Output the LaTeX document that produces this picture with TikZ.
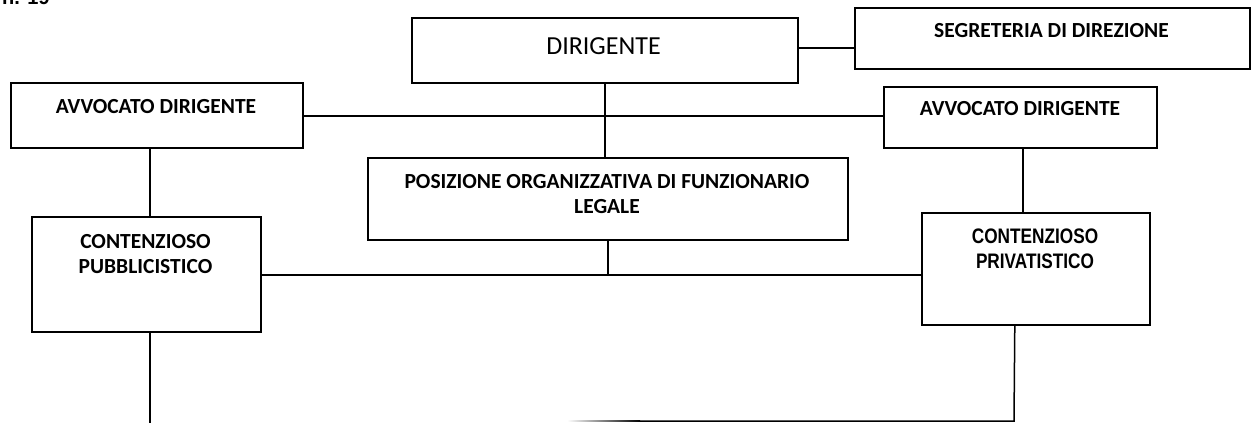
\documentclass[tikz,border=0pt]{standalone}
\usepackage{fontspec}
\setmainfont{Carlito}
\newfontfamily\arialfont{Liberation Sans}
\newfontfamily\narrowfont[FakeStretch=0.82]{Liberation Sans}
\usetikzlibrary{calc}
\tikzset{
  box/.style={draw=black, line width=1.6pt, fill=white, rectangle, inner sep=0pt, anchor=north west},
  conn/.style={draw=black, line width=1.5pt},
  btxt/.style={font=\fontsize{21.5}{25}\selectfont\bfseries, align=center, inner sep=0pt, anchor=base},
  ntxt/.style={font=\narrowfont\fontsize{21}{25}\selectfont\bfseries, align=center, inner sep=0pt, anchor=base},
}
\begin{document}
\begin{tikzpicture}[x=1pt,y=-1pt]
\useasboundingbox (0,0) rectangle (1251,423);
% title (cut off at top, as in the reference)
\node[font=\arialfont\fontsize{20}{24}\selectfont\bfseries, anchor=base west, inner sep=0pt] (title) at (2,5) {n. 19};
% boxes
\node[box, minimum width=386pt, minimum height=65pt] (dir) at (411,17) {};
\node[box, minimum width=395pt, minimum height=61pt] (seg) at (854,7) {};
\node[box, minimum width=292pt, minimum height=65pt] (avL) at (10,82) {};
\node[box, minimum width=273pt, minimum height=61pt] (avR) at (883,86) {};
\node[box, minimum width=480pt, minimum height=82pt] (pos) at (367,157) {};
\node[box, minimum width=229pt, minimum height=115pt] (cpub) at (31,216) {};
\node[box, minimum width=228pt, minimum height=112pt] (cpriv) at (921,212) {};
% texts (multi-line: anchor is the baseline of the last line)
\node[font=\fontsize{26}{30}\selectfont, inner sep=0pt, anchor=base] (dirT) at (603.5,54) {DIRIGENTE};
\node[btxt] (segT) at (1051.5,37.5) {SEGRETERIA DI DIREZIONE};
\node[btxt] (avLT) at (156,113) {AVVOCATO DIRIGENTE};
\node[btxt] (avRT) at (1020,115) {AVVOCATO DIRIGENTE};
\node[btxt] (posT) at (607,213) {POSIZIONE ORGANIZZATIVA DI FUNZIONARIO\\LEGALE};
\node[btxt] (cpubT) at (145.5,273) {CONTENZIOSO\\PUBBLICISTICO};
\node[ntxt] (cprivT) at (1035,268) {CONTENZIOSO\\PRIVATISTICO};
% connectors
\draw[conn] ([yshift=2.5pt]dir.east) -- ([yshift=2.5pt]dir.east -| seg.west);
\draw[conn] ([yshift=-0.5pt]avL.east) -- ([yshift=-0.5pt]avL.east -| avR.west);
\draw[conn] (dir.south) -- (dir.south |- pos.north);
\draw[conn] ([xshift=-7pt]avL.south) -- ([xshift=-7pt]avL.south |- cpub.north);
\draw[conn] ([xshift=2.5pt]avR.south) -- ([xshift=2.5pt]avR.south |- cpriv.north);
\coordinate (hl) at ([yshift=-0.5pt]cpub.east);
\draw[conn] (hl) -- (hl -| cpriv.west);
\draw[conn] (pos.south) -- (pos.south |- hl);
\coordinate (endL) at (149,425);
\draw[conn] ([xshift=3.5pt]cpub.south) -- ([xshift=3.5pt]cpub.south |- endL);
\coordinate (bot) at (1014,421);
\coordinate (fadeA) at (640,421);
\draw[conn] ([xshift=-21pt]cpriv.south) -- (bot) -- (fadeA);
\shade[left color=white, right color=black] (567,420.25) rectangle (640,421.75);
\end{tikzpicture}
\end{document}
